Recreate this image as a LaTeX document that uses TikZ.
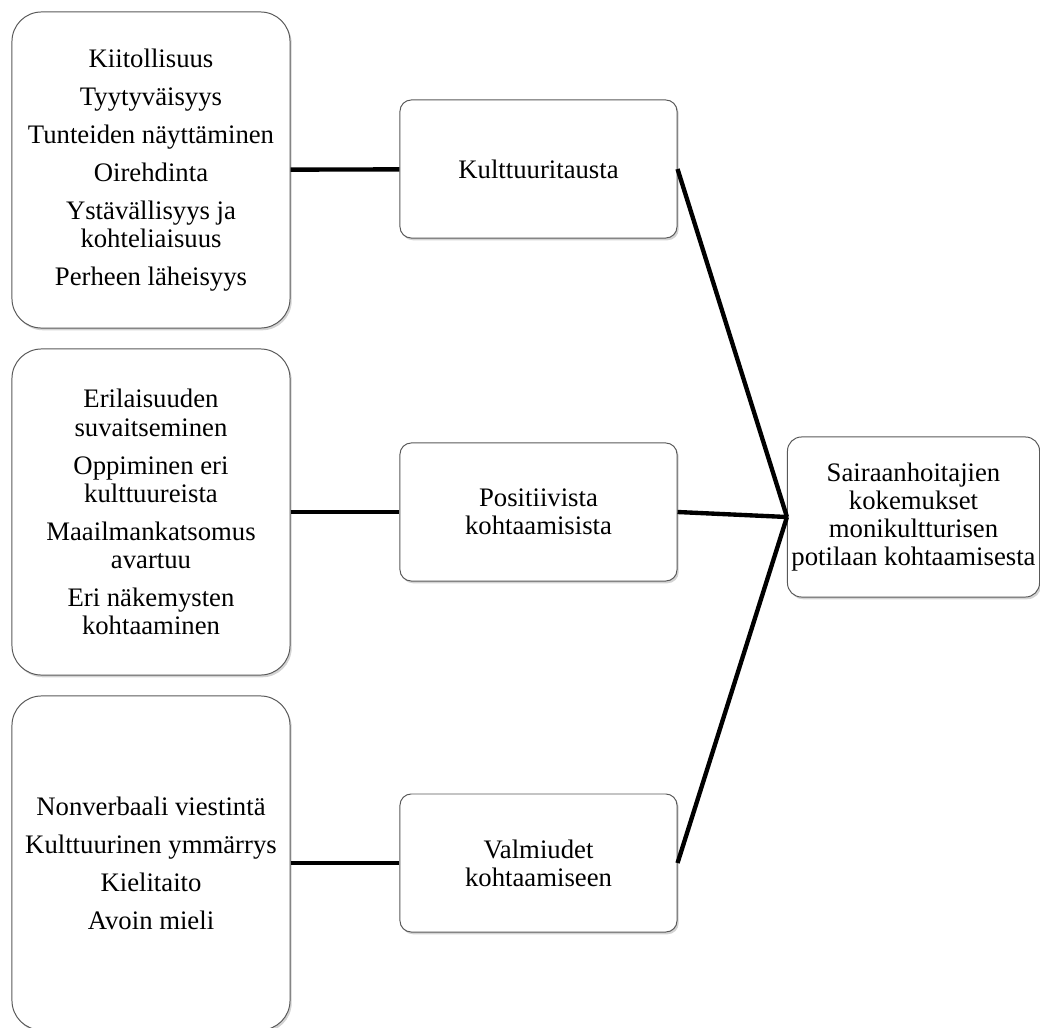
\documentclass[tikz,border=0pt]{standalone}
\usepackage{fontspec}
\setmainfont{Liberation Serif}
\usetikzlibrary{shadows}

\begin{document}
\begin{tikzpicture}[x=0.025cm, y=-0.025cm,
  box/.style={draw=gray!70!black, line width=0.7pt, fill=white, align=center, inner sep=0pt,
    font=\fontsize{19}{20}\selectfont,
    drop shadow={opacity=0.35, shadow xshift=1.2pt, shadow yshift=-1.6pt}},
  theme/.style={box, rounded corners=21pt, minimum width=6.95cm},
  cat/.style={box, rounded corners=8pt, minimum width=6.925cm, minimum height=3.45cm},
  link/.style={line width=3.1pt}]
  \useasboundingbox (0,0) rectangle (1040,1027);
  % themes on the left
  \node[theme, minimum height=7.9cm] (T1) at (151,170) {Kiitollisuus\\[7pt] Tyytyväisyys\\[7pt] Tunteiden näyttäminen\\[7pt] Oirehdinta\\[7pt] Ystävällisyys ja\\ kohteliaisuus\\[7pt] Perheen läheisyys};
  \node[theme, minimum height=8.15cm] (T2) at (151,512) {Erilaisuuden\\ suvaitseminen\\[7pt] Oppiminen eri\\ kulttuureista\\[7pt] Maailmankatsomus\\ avartuu\\[7pt] Eri näkemysten\\ kohtaaminen};
  \node[theme, minimum height=8.35cm] (T3) at (151,863) {Nonverbaali viestintä\\[7pt] Kulttuurinen ymmärrys\\[7pt] Kielitaito\\[7pt] Avoin mieli};
  % categories
  \node[cat] (K1) at (538.5,169) {Kulttuuritausta};
  \node[cat] (K2) at (538.5,512) {Positiivista\\ kohtaamisista};
  \node[cat] (K3) at (538.5,863) {Valmiudet\\ kohtaamiseen};
  % main theme
  \node[box, rounded corners=10pt, minimum width=6.3cm, minimum height=4cm] (M) at (913.5,517) {Sairaanhoitajien\\ kokemukset\\ monikultturisen\\ potilaan kohtaamisesta};
  \draw[link] (T1) -- (K1);
  \draw[link] (T2) -- (K2);
  \draw[link] (T3) -- (K3);
  \draw[link] (K1.east) -- (M.west);
  \draw[link] (K2.east) -- (M.west);
  \draw[link] (K3.east) -- (M.west);
\end{tikzpicture}
\end{document}
